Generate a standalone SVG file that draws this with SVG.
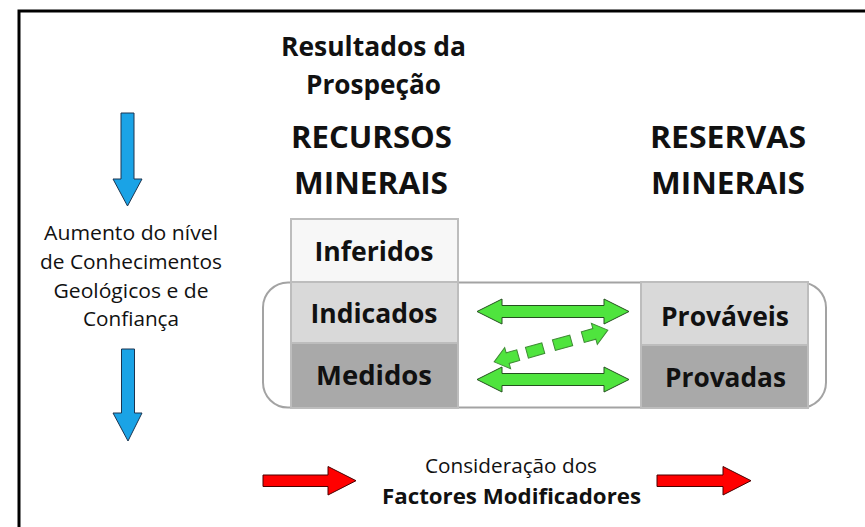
<svg xmlns="http://www.w3.org/2000/svg" width="865" height="527" viewBox="0 0 865 527">
<style>
text{font-family:"Open Sans","Noto Sans","Liberation Sans",sans-serif;fill:#111;text-anchor:middle}
.b{font-weight:700}
.h1{font-size:26px}
.h2{font-size:31px}
.lbl{font-size:26px}
.side{font-size:20px}
.foot{font-size:20.5px}
.box{stroke:#bdbdbd;stroke-width:2}
.blue{fill:#1aa3e6;stroke:#1c3550;stroke-width:1}
.green{fill:#4fe43e;stroke:#24511f;stroke-width:1}
.gdash{fill:#4fe43e;stroke:#3f8a35;stroke-width:1}
.red{fill:#ff0000;stroke:#4a0000;stroke-width:1}
</style>
<rect x="0" y="0" width="865" height="527" fill="#fff"/>
<rect id="frame" x="19" y="11" width="900" height="600" fill="none" stroke="#000" stroke-width="3"/>

<g id="title">
<text class="b h1" x="373.5" y="55.5" textLength="185" lengthAdjust="spacingAndGlyphs">Resultados da</text>
<text class="b h1" x="373.5" y="94" textLength="135" lengthAdjust="spacingAndGlyphs">Prospeção</text>
</g>
<g id="recursos">
<text class="b h2" x="371.5" y="148" textLength="161" lengthAdjust="spacingAndGlyphs">RECURSOS</text>
<text class="b h2" x="371" y="194" textLength="154" lengthAdjust="spacingAndGlyphs">MINERAIS</text>
</g>
<g id="reservas">
<text class="b h2" x="728" y="148" textLength="156" lengthAdjust="spacingAndGlyphs">RESERVAS</text>
<text class="b h2" x="728" y="194" textLength="154" lengthAdjust="spacingAndGlyphs">MINERAIS</text>
</g>
<g id="conhecimento">
<text class="side" x="131" y="240" textLength="174" lengthAdjust="spacingAndGlyphs">Aumento do nível</text>
<text class="side" x="131" y="269" textLength="182" lengthAdjust="spacingAndGlyphs">de Conhecimentos</text>
<text class="side" x="131" y="297.5" textLength="155" lengthAdjust="spacingAndGlyphs">Geológicos e de</text>
<text class="side" x="131" y="326" textLength="96" lengthAdjust="spacingAndGlyphs">Confiança</text>
</g>

<g id="grupo">
<rect x="263" y="282.5" width="563" height="125" rx="25" ry="25" fill="#fff" stroke="#a3a3a3" stroke-width="2"/>
</g>
<g id="inferidos">
<rect class="box" x="291" y="219" width="167" height="63" fill="#f7f7f7"/>
<text class="b lbl" x="374" y="260.5" textLength="119" lengthAdjust="spacingAndGlyphs">Inferidos</text>
</g>
<g id="indicados">
<rect class="box" x="291" y="282" width="167" height="61" fill="#d9d9d9"/>
<text class="b lbl" x="374" y="322.5" textLength="127" lengthAdjust="spacingAndGlyphs">Indicados</text>
</g>
<g id="medidos">
<rect class="box" x="291" y="343" width="167" height="65" fill="#a9a9a9"/>
<text class="b lbl" x="374" y="385" textLength="116" lengthAdjust="spacingAndGlyphs">Medidos</text>
</g>
<g id="provaveis">
<rect class="box" x="641" y="282" width="167" height="63" fill="#d9d9d9"/>
<text class="b lbl" x="725" y="326" textLength="128" lengthAdjust="spacingAndGlyphs">Prováveis</text>
</g>
<g id="provadas">
<rect class="box" x="641" y="345" width="167" height="63" fill="#a9a9a9"/>
<text class="b lbl" x="725.5" y="386.5" textLength="121" lengthAdjust="spacingAndGlyphs">Provadas</text>
</g>

<g id="factores">
<text class="foot" x="511" y="473" textLength="172" lengthAdjust="spacingAndGlyphs">Consideração dos</text>
<text class="foot b" x="511.5" y="504" textLength="259" lengthAdjust="spacingAndGlyphs">Factores Modificadores</text>
</g>

<g id="connectors">
<polygon class="blue" points="121,113 134,113 134,179 142,179 127.5,206 113,179 121,179"/>
<polygon class="blue" points="121.5,349 134.5,349 134.5,413 142,413 128,441 113,413 121.5,413"/>
<polygon class="green" points="477,311.5 502,299 502,305.5 604,305.5 604,299 629,311.5 604,324 604,317.5 502,317.5 502,324"/>
<polygon class="green" points="477,379.5 502,367 502,373.5 604,373.5 604,367 629,379.5 604,392 604,385.5 502,385.5 502,392"/>
<g transform="translate(551,346) rotate(-15.6)">
<polygon class="gdash" points="-59,0 -45,-11 -45,-5.5 -34,-5.5 -34,5.5 -45,5.5 -45,11"/>
<rect class="gdash" x="-25" y="-5.5" width="17" height="11"/>
<rect class="gdash" x="3" y="-5.5" width="18" height="11"/>
<polygon class="gdash" points="59,0 45,-11 45,-5.5 33,-5.5 33,5.5 45,5.5 45,11"/>
</g>
<polygon class="red" points="263,475 328,475 328,466.5 356,480.7 328,495 328,486.5 263,486.5"/>
<polygon class="red" points="657,475 723,475 723,466.5 751,480.7 723,495 723,486.5 657,486.5"/>
</g>
</svg>
